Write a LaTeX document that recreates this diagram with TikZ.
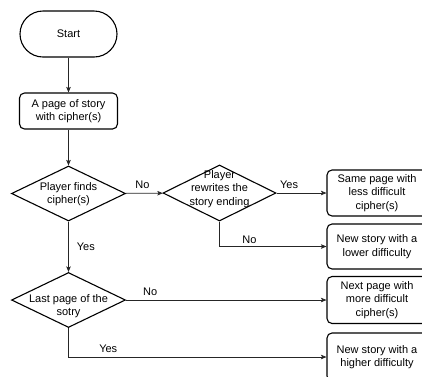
\documentclass[tikz,border=0pt]{standalone}
\usepackage{fontspec}
\setmainfont{Liberation Sans}
\usetikzlibrary{shapes.geometric,arrows.meta}
\begin{document}
\begin{tikzpicture}[x=1pt,y=-1pt,
  font=\fontsize{11}{13.5}\selectfont,
  conn/.style={draw=black!85, line width=0.7pt, -{Stealth[length=5.5pt,width=4.5pt,inset=1.2pt]}},
  box/.style={draw, line width=1.1pt, rounded corners=5pt, align=center, inner sep=0pt},
  dia/.style={draw, diamond, line width=1.1pt, inner sep=0pt},
  dtext/.style={align=center, inner sep=0pt},
  lab/.style={inner sep=2pt}]
\useasboundingbox (0,0) rectangle (422,376);
\clip (0,0) rectangle (422,376);
% left column
\node[box, rounded corners=23pt, minimum width=97pt, minimum height=46pt] (start) at (68.5,34) {Start};
\node[box, minimum width=98pt, minimum height=36pt] (page) at (68.5,111) {A page of story\\with cipher(s)};
\node[dia, minimum width=114pt, minimum height=55pt] (d1) at (68.5,193.5) {};
\node[dtext] (t1) at (68.5,194) {Player finds\\cipher(s)};
\node[dia, minimum width=114pt, minimum height=55pt] (d3) at (68.5,300) {};
\node[dtext] (t3) at (68.5,306) {Last page of the\\sotry};
% middle
\node[dia, minimum width=113pt, minimum height=56pt] (d2) at (219.5,193) {};
\node[dtext] (t2) at (219.5,189) {Player\\rewrites the\\story ending};
% right column
\node[box, minimum width=100pt, minimum height=46pt] (b1) at (377,193) {Same page with\\less difficult\\cipher(s)};
\node[box, minimum width=100pt, minimum height=45pt] (b2) at (377,246.5) {New story with a\\lower difficulty};
\node[box, minimum width=100pt, minimum height=47pt] (b3) at (377,300) {Next page with\\more difficult\\cipher(s)};
\node[box, minimum width=100pt, minimum height=48pt] (b4) at (377,357) {New story with a\\higher difficulty};
% connectors
\draw[conn] (start) -- (page);
\draw[conn] (page) -- (d1);
\draw[conn] (d1) -- node[lab, above, pos=0.45, yshift=2pt] {No} (d2);
\draw[conn] (d2) -- node[lab, above, pos=0.25, yshift=2pt] {Yes} (b1);
\draw[conn] (d2.south) |- node[lab, above, pos=0.64, yshift=1pt] {No} (b2.west);
\draw[conn] (d1) -- node[lab, right, xshift=6pt] {Yes} (d3);
\draw[conn] (d3) -- node[lab, above, pos=0.12, yshift=2pt] {No} (b3);
\draw[conn] (d3.south) |- node[lab, above, pos=0.577, yshift=2pt] {Yes} (b4.west);
\end{tikzpicture}
\end{document}
